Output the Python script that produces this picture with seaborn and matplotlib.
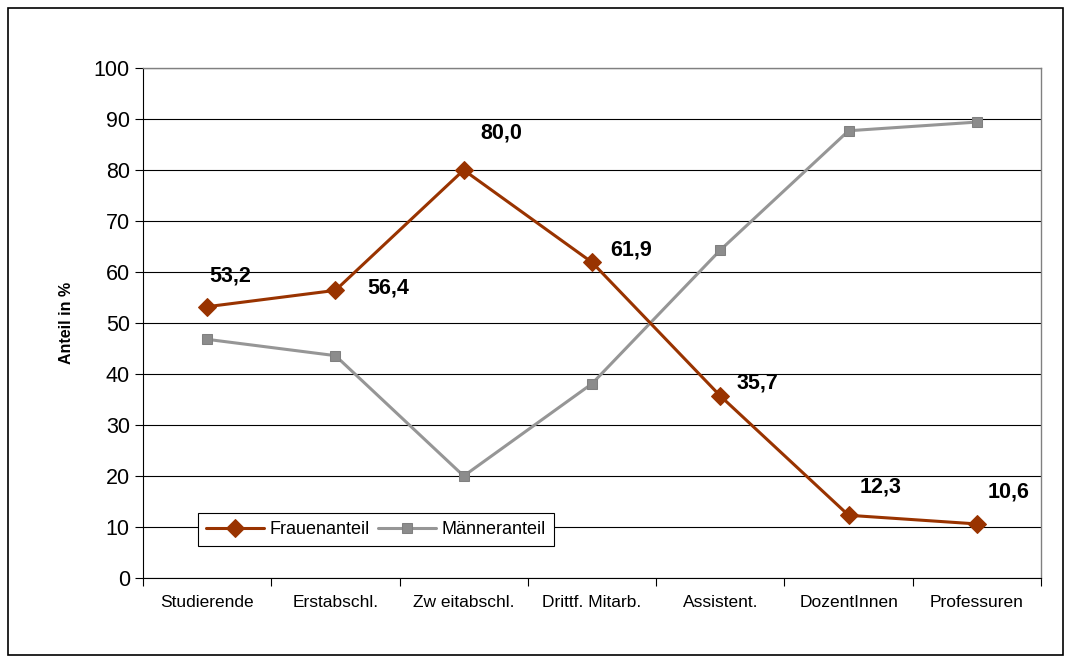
import pandas as pd
import numpy as np
import matplotlib.pyplot as plt
import seaborn as sns
from matplotlib.patches import Rectangle

categories = ['Studierende', 'Erstabschl.', 'Zw eitabschl.', 'Drittf. Mitarb.',
              'Assistent.', 'DozentInnen', 'Professuren']
frauen = [53.2, 56.4, 80.0, 61.9, 35.7, 12.3, 10.6]
maenner = [46.8, 43.6, 20.0, 38.1, 64.3, 87.7, 89.4]
labels = ['53,2', '56,4', '80,0', '61,9', '35,7', '12,3', '10,6']

sns.set_style('white')
plt.rcParams['font.family'] = ['Liberation Sans', 'DejaVu Sans']
plt.rcParams['text.color'] = 'black'
plt.rcParams['axes.labelcolor'] = 'black'
plt.rcParams['xtick.color'] = 'black'
plt.rcParams['ytick.color'] = 'black'

df = pd.DataFrame({'Kategorie': categories, 'Frauenanteil': frauen, 'Männeranteil': maenner})
df['pos'] = np.arange(len(df))

fig = plt.figure(figsize=(10.71, 6.63), dpi=100)
ax = fig.add_axes([0.1335, 0.1282, 0.8385, 0.7692])

sns.lineplot(data=df, x='pos', y='Frauenanteil', ax=ax, color='#993300', lw=2.2,
             marker='D', markersize=9, markeredgecolor='#993300', label='Frauenanteil', zorder=4)
sns.lineplot(data=df, x='pos', y='Männeranteil', ax=ax, color='#969696', lw=2.2,
             marker='s', markersize=7, markerfacecolor='#8c8c8c', markeredgecolor='#808080',
             label='Männeranteil', zorder=3)

# data labels, offsets in points
offsets = [(17, 22), (38, 2), (27, 27), (28, 9), (27, 9), (23, 20), (23, 23)]
for i, (v, t) in enumerate(zip(frauen, labels)):
    ax.annotate(t, (i, v), xytext=offsets[i], textcoords='offset points',
                ha='center', va='center', fontsize=15.5, fontweight='bold', zorder=5)

ax.set_xlim(-0.5, len(categories) - 0.5)
ax.set_ylim(0, 100)
ax.set_yticks(range(0, 101, 10))
ax.yaxis.grid(True, color='black', lw=0.8)
ax.set_axisbelow(True)
ax.set_xticks(np.arange(-0.5, len(categories), 1.0))
ax.set_xticklabels([])
ax.set_xticks(np.arange(len(categories)), minor=True)
ax.set_xticklabels(categories, minor=True, fontsize=12.5)
ax.tick_params(axis='x', which='major', direction='out', length=6, width=0.8, color='black', bottom=True)
ax.tick_params(axis='x', which='minor', length=0, pad=12)
ax.tick_params(axis='y', direction='out', length=6, width=0.8, color='black', left=True, labelsize=15.5)
ax.set_xlabel('')
ax.set_ylabel('Anteil in %', fontsize=11.5, fontweight='bold', labelpad=14)

for s in ['left', 'bottom']:
    ax.spines[s].set_color('black')
    ax.spines[s].set_linewidth(0.8)
for s in ['top', 'right']:
    ax.spines[s].set_color('#808080')
    ax.spines[s].set_linewidth(1.0)

leg = ax.legend(loc='lower left', bbox_to_anchor=(0.061, 0.062), ncol=2, fontsize=13,
                frameon=True, fancybox=False, handlelength=3.2, columnspacing=0.5,
                handletextpad=0.3, borderpad=0.45, borderaxespad=0)
leg.get_frame().set_edgecolor('black')
leg.get_frame().set_linewidth(0.8)
leg.get_frame().set_alpha(1)

fig.patches.append(Rectangle((8 / 1071, 8 / 663), 1055 / 1071, 647 / 663,
                             transform=fig.transFigure, fill=False, edgecolor='black', lw=1.2))

fig.savefig('out.png', dpi=100)
